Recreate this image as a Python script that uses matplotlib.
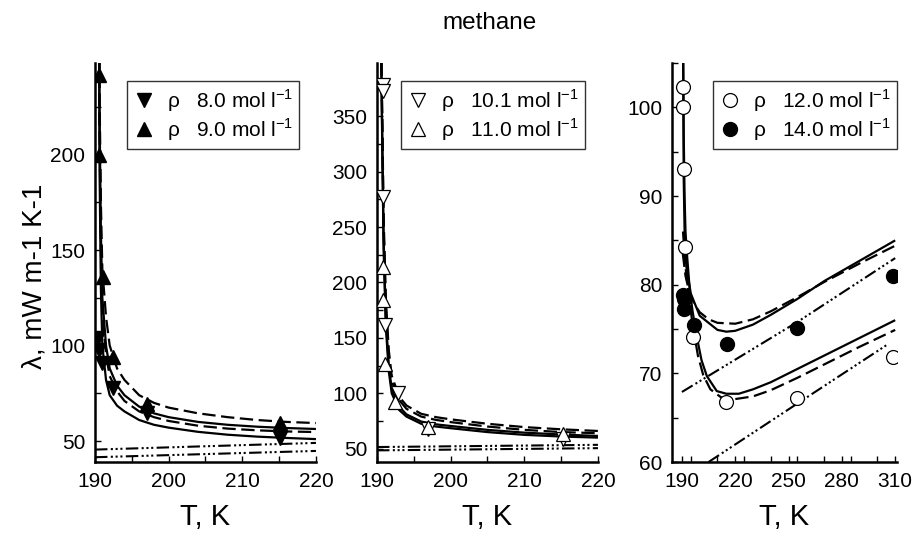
import matplotlib
matplotlib.use("Agg")
import matplotlib.pyplot as plt
from matplotlib.ticker import MultipleLocator

plt.rcParams['font.family'] = ['Liberation Sans', 'DejaVu Sans']
plt.rcParams['mathtext.fontset'] = 'custom'
plt.rcParams['mathtext.rm'] = 'Liberation Sans'

# ---- panel 1 : 8.0 and 9.0 mol/l ----
T8_pts = [190.4, 190.5, 191.0, 192.5, 197.0, 215.1]
lam8_pts = [104.0, 97.6, 91.0, 77.7, 64.6, 51.6]
T9_pts = [190.5, 190.5, 191.1, 192.5, 197.0, 215.1]
lam9_pts = [242.0, 200.0, 135.7, 94.0, 69.5, 59.6]

T_p1 = [190.58, 190.6, 190.8, 191.0, 191.5, 192.0, 193.0, 194.0, 196.0, 198.0, 200.0, 204.0, 208.0, 212.0, 216.0, 220.0]
sol8_p1 = [300, 200, 130, 100, 82, 74, 68.5, 65.5, 61, 58.5, 57, 54.8, 53.3, 52.3, 51.6, 51]
dash8_p1 = [300, 220, 150, 118, 95, 84, 76, 71, 65.5, 62.5, 60.5, 58, 56.5, 55.6, 55, 54.7]
sol9_p1 = [300, 230, 160, 125, 100, 88, 79, 74, 68, 64.5, 62.5, 60, 58.5, 57.5, 56.8, 56.3]
dash9_p1 = [300, 240, 175, 140, 115, 100, 88, 82, 74, 70, 67.5, 64.5, 62.5, 61, 60, 59.4]
T_lin1 = [190.0, 220.0]
dd_hi_p1 = [45.5, 49.0]
dd_lo_p1 = [41.5, 44.8]

# ---- panel 2 : 10.1 and 11.0 mol/l ----
T10_pts = [190.8, 190.8, 190.8, 191.1, 192.9, 196.9, 215.2]
lam10_pts = [378.0, 373.0, 277.0, 161.6, 100.7, 68.0, 59.0]
T11_pts = [190.8, 190.8, 191.1, 192.4, 196.9, 215.2]
lam11_pts = [214.0, 184.0, 126.6, 92.4, 69.4, 63.0]

T_p2 = [190.5, 190.55, 190.7, 190.9, 191.2, 191.6, 192.0, 193.0, 194.0, 196.0, 198.0, 200.0, 205.0, 210.0, 215.0, 220.0]
sol10_p2 = [450, 420, 330, 230, 160, 120, 100, 85, 79, 72.5, 70, 68.5, 65, 62.5, 61, 60]
sol11_p2 = [450, 420, 340, 240, 168, 125, 104, 88, 81, 74.5, 72, 70.5, 67, 64.5, 62.8, 61.5]
dash10_p2 = [450, 420, 350, 250, 178, 133, 111, 94, 86, 79, 76, 74, 70, 67, 65, 64]
dash11_p2 = [450, 420, 360, 260, 185, 139, 116, 97, 89, 81.5, 78.5, 76.5, 72.5, 69.5, 67.5, 66]
T_lin2 = [190.0, 220.0]
dd_hi_p2 = [51.5, 53.5]
dd_lo_p2 = [48.5, 50.5]

# ---- panel 3 : 12.0 and 14.0 mol/l ----
T12_pts = [190.6, 190.6, 191.1, 191.7, 196.2, 215.0, 254.9, 309.0]
lam12_pts = [102.3, 100.0, 93.1, 84.3, 74.1, 66.8, 67.2, 71.8]
T14_pts = [190.6, 191.0, 191.2, 196.7, 215.2, 255.0, 309.0]
lam14_pts = [78.8, 78.4, 77.3, 75.4, 73.3, 75.1, 81.0]

T_sol14 = [190.7, 191.0, 191.5, 192.5, 195.0, 200.0, 210.0, 215.0, 220.0, 230.0, 240.0, 255.0, 270.0, 290.0, 310.0]
sol14_p3 = [106, 92, 86, 82, 79, 76.5, 74.9, 74.7, 74.8, 75.5, 76.6, 78.4, 80.4, 82.7, 85.0]
T_dash14 = [190.5, 192.0, 194.0, 197.0, 200.0, 205.0, 210.0, 220.0, 230.0, 240.0, 255.0, 270.0, 290.0, 310.0]
dash14_p3 = [83.5, 81.0, 79.3, 77.8, 76.9, 76.1, 75.7, 75.6, 76.1, 77.0, 78.6, 80.3, 82.4, 84.4]
T_sol12 = [190.7, 191.0, 191.5, 192.0, 193.0, 194.5, 196.0, 198.3, 201.0, 204.0, 209.6, 215.0, 222.0, 230.0, 240.0, 255.0, 270.0, 290.0, 310.0]
sol12_p3 = [106, 97, 90, 86, 83, 79.2, 77, 74.2, 71.5, 69.7, 68, 67.7, 67.7, 68.2, 69, 70.5, 72, 74, 76]
T_dash12 = [190.6, 192.0, 194.0, 196.0, 199.0, 202.0, 206.0, 212.0, 220.0, 230.0, 240.0, 255.0, 270.0, 290.0, 310.0]
dash12_p3 = [86, 82, 78.5, 75.5, 72, 69.8, 68.2, 67.3, 67.1, 67.4, 68.1, 69.5, 71, 73, 74.9]
T_dd14 = [190.0, 255.0, 310.0]
dd14_p3 = [67.9, 75.8, 83.0]
T_dd12 = [205.0, 255.0, 306.0]
dd12_p3 = [60.0, 66.6, 73.3]

DASH = (6, 2.5)
DDOT = (6, 1.6, 1, 1.3, 1, 1.3, 1, 1.6)

fig = plt.figure(figsize=(9.15, 5.42), dpi=100)
ax1 = fig.add_axes([0.1038, 0.1476, 0.2415, 0.736])
ax2 = fig.add_axes([0.4120, 0.1476, 0.2415, 0.736])
ax3 = fig.add_axes([0.7344, 0.1476, 0.2459, 0.736])


def style(ax, xmaj, xmin, ymaj, ymin):
    for s in ['top', 'right']:
        ax.spines[s].set_visible(False)
    for s in ['left', 'bottom']:
        ax.spines[s].set_linewidth(1.8)
    ax.xaxis.set_major_locator(MultipleLocator(xmaj))
    ax.xaxis.set_minor_locator(MultipleLocator(xmin))
    ax.yaxis.set_major_locator(MultipleLocator(ymaj))
    ax.yaxis.set_minor_locator(MultipleLocator(ymin))
    ax.tick_params(which='both', direction='in', length=4, width=1, labelsize=15, pad=7)
    ax.set_xlabel('T, K', fontsize=21, labelpad=9)


def line(ax, x, y, kind):
    if kind == 'solid':
        ax.plot(x, y, color='black', lw=1.6, solid_capstyle='butt')
    elif kind == 'dash':
        ax.plot(x, y, color='black', lw=1.6, dashes=DASH)
    else:
        ax.plot(x, y, color='black', lw=1.5, dashes=DDOT)


def leg(ax, left):
    lg = ax.legend(loc='upper left', bbox_to_anchor=(left, 0.955), fontsize=15,
                   frameon=True, fancybox=False, handlelength=1.0, handletextpad=0.6,
                   borderpad=0.3, labelspacing=0.12, borderaxespad=0)
    lg.get_frame().set_edgecolor('black')
    lg.get_frame().set_linewidth(1.0)


# panel 1
line(ax1, T_p1, sol8_p1, 'solid')
line(ax1, T_p1, sol9_p1, 'solid')
line(ax1, T_p1, dash8_p1, 'dash')
line(ax1, T_p1, dash9_p1, 'dash')
line(ax1, T_lin1, dd_hi_p1, 'dd')
line(ax1, T_lin1, dd_lo_p1, 'dd')
ax1.plot(T8_pts, lam8_pts, 'v', color='black', ms=10, ls='none', zorder=5,
         label='ρ   8.0 mol l$^{-1}$')
ax1.plot(T9_pts, lam9_pts, '^', color='black', ms=10, ls='none', zorder=5,
         label='ρ   9.0 mol l$^{-1}$')
ax1.set_xlim(190, 220)
ax1.set_ylim(39, 248)
style(ax1, 10, 5, 50, 25)
leg(ax1, 0.145)

# panel 2
line(ax2, T_p2, sol10_p2, 'solid')
line(ax2, T_p2, sol11_p2, 'solid')
line(ax2, T_p2, dash10_p2, 'dash')
line(ax2, T_p2, dash11_p2, 'dash')
line(ax2, T_lin2, dd_hi_p2, 'dd')
line(ax2, T_lin2, dd_lo_p2, 'dd')
ax2.plot(T10_pts, lam10_pts, 'v', mfc='white', mec='black', mew=0.9, ms=10, ls='none',
         zorder=5, label='ρ   10.1 mol l$^{-1}$')
ax2.plot(T11_pts, lam11_pts, '^', mfc='white', mec='black', mew=0.9, ms=10, ls='none',
         zorder=5, label='ρ   11.0 mol l$^{-1}$')
ax2.set_xlim(190, 220)
ax2.set_ylim(38, 398)
style(ax2, 10, 5, 50, 25)
leg(ax2, 0.109)

# panel 3
line(ax3, T_sol14, sol14_p3, 'solid')
line(ax3, T_sol12, sol12_p3, 'solid')
line(ax3, T_dash14, dash14_p3, 'dash')
line(ax3, T_dash12, dash12_p3, 'dash')
line(ax3, T_dd14, dd14_p3, 'dd')
line(ax3, T_dd12, dd12_p3, 'dd')
ax3.plot(T12_pts, lam12_pts, 'o', mfc='white', mec='black', mew=0.9, ms=10, ls='none',
         zorder=5, label='ρ   12.0 mol l$^{-1}$')
ax3.plot(T14_pts, lam14_pts, 'o', color='black', ms=10, ls='none', zorder=5,
         label='ρ   14.0 mol l$^{-1}$')
ax3.set_xlim(184.4, 311)
ax3.set_ylim(60, 105)
style(ax3, 30, 15, 10, 5)
ax3.set_xticks([190, 220, 250, 280, 310])
leg(ax3, 0.182)

fig.text(0.535, 0.958, 'methane', ha='center', va='center', fontsize=17.5)
fig.text(0.038, 0.49, 'λ, mW m-1 K-1', rotation=90, ha='center', va='center', fontsize=20)

fig.savefig('out.png', dpi=100)
